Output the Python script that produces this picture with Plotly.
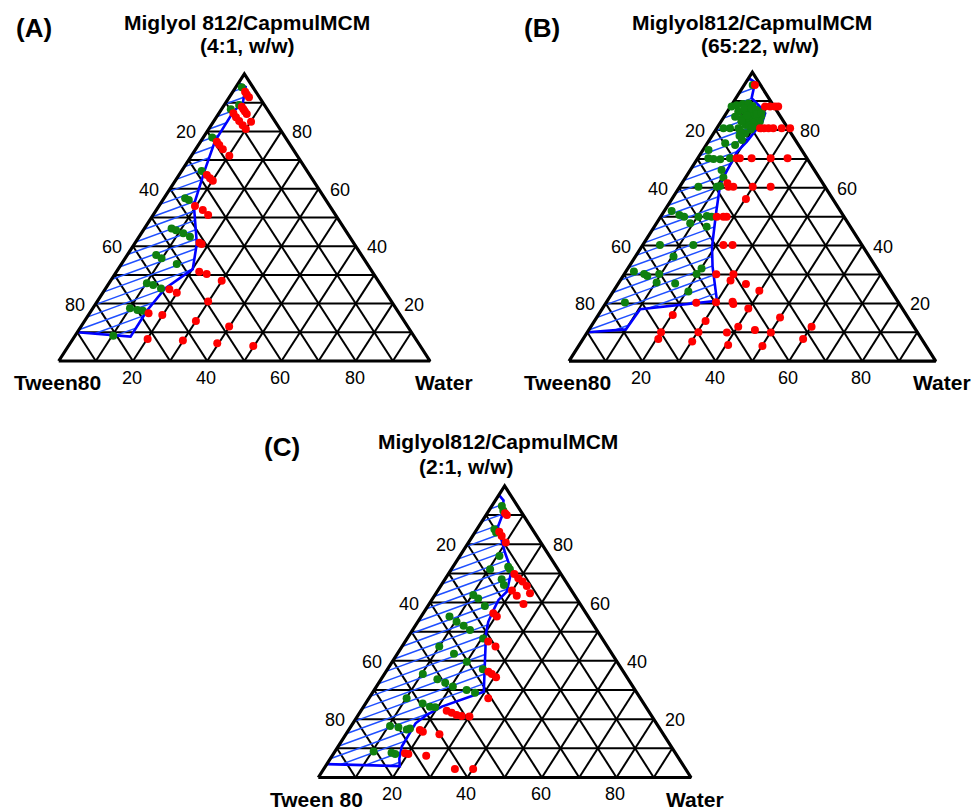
import math
import plotly.graph_objects as go

FIG_W, FIG_H = 974, 811

# Compositions in % (w/w). oil = Miglyol/Capmul phase (apex), water = right corner,
# Tween 80 is the remainder (left corner).

# ---- (A) Miglyol 812 / Capmul MCM 4:1 ----
A_green_oil = [95.4, 89.2, 87.7, 77.9, 66.2, 56.7, 56.1, 46.2, 45.6, 44.5, 43.3, 36.9, 35.8,
               33.8, 27.1, 26.5, 25.3, 18.4, 17.8, 17.5, 8.8]
A_green_water = [1.6, 4.0, 2.5, 2.4, 5.4, 5.7, 7.0, 7.3, 8.8, 11.3, 13.7, 7.8, 9.8,
                 14.9, 10.2, 12.2, 14.9, 10.0, 12.3, 13.9, 10.3]
A_red_oil = [93.8, 92.9, 91.9, 88.6, 87.7, 86.9, 86.1, 86.3, 84.9, 83.6, 82.1, 83.4, 80.8,
             76.4, 75.3, 73.8, 71.5, 64.8, 63.7, 62.8, 54.0, 52.6, 50.9, 41.2, 40.8,
             31.1, 30.3, 28.0, 25.0, 23.8, 20.7, 16.6, 16.0, 13.9, 12.0, 7.7, 7.1, 6.2, 5.2]
A_red_water = [3.3, 4.2, 5.3, 5.0, 5.9, 6.7, 7.6, 3.9, 5.3, 6.8, 8.5, 10.1, 10.0,
               4.4, 5.6, 7.3, 10.2, 7.5, 8.9, 10.1, 9.7, 12.5, 14.8, 17.3, 18.1,
               22.3, 24.7, 29.9, 17.3, 19.9, 29.9, 15.9, 19.9, 30.0, 39.9, 20.1, 29.9, 39.6, 49.8]
A_region_oil = [96.8, 95.5, 90.0, 87.0, 76.6, 66.5, 54.4, 41.0, 32.0, 25.3, 17.5, 8.5, 10.0]
A_region_water = [0.0, 2.6, 4.6, 3.6, 3.8, 6.1, 9.2, 16.7, 20.1, 16.0, 15.0, 15.1, 0.0]

# ---- (B) Miglyol 812 / Capmul MCM 65:22 ----
B_green_oil = [95.6, 88.1, 88.6, 89.0, 89.2, 88.3, 86.7, 84.8, 82.9, 81.4, 80.2, 78.9, 76.5,
               86.3, 86.3, 85.8, 84.0, 83.5, 84.0, 84.6, 81.7, 80.6, 80.6, 80.6,
               87.5, 87.5, 87.0, 85.0, 85.5, 83.0, 82.5, 81.5, 79.5, 78.0, 81.0, 86.0,
               74.8, 75.4, 73.1, 70.2, 70.0, 69.9, 70.2, 66.2, 63.6, 60.4, 60.4, 60.6,
               52.0, 50.6, 50.0, 50.0, 50.2, 50.0, 47.7, 46.5,
               40.2, 40.2, 36.2, 32.1, 30.2, 31.0, 30.2, 29.5, 30.2, 27.2, 26.9, 24.1, 20.3]
B_green_water = [2.3, 0.3, 1.4, 2.9, 4.3, 5.9, 8.0, 10.0, 10.6, 10.3, 9.5, 8.6, 8.9,
                 3.0, 4.9, 6.9, 8.7, 7.2, 5.1, 3.0, 7.2, 5.9, 3.6, 1.8,
                 4.0, 6.0, 7.5, 6.0, 8.5, 5.5, 9.0, 8.5, 7.0, 7.5, 9.5, 9.5,
                 7.9, 4.9, 1.5, 2.9, 4.4, 6.3, 8.8, 8.5, 10.3, 5.1, 10.1, 10.9,
                 2.0, 4.8, 6.4, 10.3, 12.5, 13.9, 9.2, 14.3,
                 4.7, 13.8, 10.4, 20.1, 19.7, 2.2, 5.4, 6.6, 9.5, 10.3, 15.5, 20.5, 5.1]
B_red_oil = [95.6, 88.1, 88.1, 88.1, 88.1, 80.6, 80.6, 80.6, 80.6, 80.6, 80.6,
             70.2, 70.2, 70.2, 70.2, 70.2, 61.6, 60.4, 60.4, 60.4, 60.4, 56.1,
             50.0, 50.0, 50.0, 40.2, 40.2, 30.1, 30.1, 27.9, 26.7, 24.4,
             20.4, 20.6, 19.8, 20.2, 18.2, 16.0, 10.0, 7.7, 13.9, 10.0, 6.8,
             11.9, 9.9, 5.6, 10.8, 15.1, 9.9, 5.3, 11.9, 7.7]
B_red_water = [2.9, 9.4, 10.8, 12.1, 13.0, 11.8, 12.9, 14.1, 15.4, 17.7, 20.0,
               10.6, 11.5, 14.7, 19.9, 24.5, 12.4, 13.3, 14.6, 19.9, 24.8, 20.2,
               15.3, 17.1, 18.0, 22.0, 24.5, 25.1, 29.8, 30.1, 34.9, 39.7,
               29.9, 34.3, 34.9, 24.6, 39.8, 20.3, 20.1, 20.5, 30.3, 30.3, 30.2,
               40.2, 38.1, 40.6, 45.3, 50.0, 50.1, 50.1, 60.2, 60.0]
B_region_oil = [98.0, 96.5, 91.0, 88.5, 85.8, 82.9, 80.0, 76.0, 72.5, 66.7, 62.7, 59.2,
                51.2, 39.6, 32.7, 20.9, 18.0, 11.0, 10.0]
B_region_water = [0.0, 2.5, 4.3, 7.5, 10.6, 11.3, 11.0, 10.5, 9.6, 10.0, 10.4, 11.4,
                  14.5, 19.2, 22.8, 29.9, 10.4, 10.0, 0.0]

# ---- (C) Miglyol 812 / Capmul MCM 2:1 ----
C_green_oil = [93.1, 91.5, 85.1, 84.0, 76.0, 71.4, 72.3, 71.4, 68.0, 66.0, 62.6, 61.4, 58.8,
               55.2, 53.4, 52.0, 50.6, 47.7, 44.9, 42.4, 39.7, 37.1, 35.5, 33.7, 32.5,
               31.2, 30.0, 29.1, 27.2, 25.4, 24.3, 24.1, 17.7, 17.2, 16.5, 16.8, 8.9, 8.5, 8.1]
C_green_water = [2.7, 3.9, 4.7, 5.7, 10.6, 10.4, 14.8, 15.7, 15.2, 16.8, 10.3, 12.2, 15.3,
                 7.6, 10.4, 13.0, 15.4, 20.4, 10.0, 15.2, 20.0, 25.6, 10.3, 15.1, 17.8,
                 20.5, 24.8, 27.5, 10.1, 15.3, 17.8, 19.3, 10.4, 12.9, 15.5, 16.2, 10.4, 15.4, 16.6]
C_red_oil = [90.6, 90.0, 84.3, 82.8, 80.6, 69.8, 68.3, 67.2, 65.7, 63.2, 64.1, 62.3, 59.5,
             56.3, 55.2, 46.6, 44.9, 36.3, 35.5, 34.4, 27.2, 22.9, 22.2, 21.4, 21.1, 20.9,
             16.3, 15.7, 14.8, 8.3, 8.1, 7.5, 2.9, 2.9]
C_red_water = [4.8, 5.6, 6.4, 7.8, 10.0, 17.7, 19.5, 21.2, 23.1, 25.2, 19.9, 22.1, 25.3,
               18.8, 20.3, 22.3, 25.1, 27.5, 28.8, 30.5, 32.0, 23.0, 24.7, 26.4, 27.9, 30.1,
               19.1, 20.2, 25.1, 19.1, 20.1, 25.2, 35.2, 40.1]
C_region_oil = [96.9, 95.0, 89.5, 86.0, 82.6, 76.9, 72.3, 71.2, 63.7, 60.9, 57.4, 53.4, 49.4,
                41.4, 29.4, 24.3, 21.5, 18.6, 10.6, 6.5, 3.9, 4.6]
C_region_water = [0.0, 2.2, 4.5, 5.2, 7.6, 11.7, 15.3, 16.3, 18.7, 17.9, 18.3, 18.9, 20.3,
                  24.0, 29.7, 21.0, 18.4, 16.8, 17.1, 18.5, 19.9, 0.0]

GRID_STEPS = [10, 20, 30, 40, 50, 60, 70, 80, 90]
TICK_LABELS = [20, 40, 60, 80]

GREEN = "#0f800f"
RED = "#ff0000"
BLUE = "#0000ff"
HATCH = "#1f4fff"
FONT = "Arial, Liberation Sans, Helvetica, sans-serif"
MARGIN = 4  # axis padding in composition units

panels = [
    dict(tag="(A)", title="Miglyol 812/CapmulMCM", sub="(4:1, w/w)", left="Tween80",
         X0=58.7, Yb=361.0, W=371.3, H=287.0,
         tag_xy=(34, 28), title_xy=(247, 22), sub_xy=(247, 45),
         left_dx=-1, right_dx=14, corner_dy=-21,
         green=(A_green_oil, A_green_water), red=(A_red_oil, A_red_water),
         region=(A_region_oil, A_region_water)),
    dict(tag="(B)", title="Miglyol812/CapmulMCM", sub="(65:22, w/w)", left="Tween80",
         X0=569.0, Yb=361.2, W=366.7, H=289.0,
         tag_xy=(542, 28), title_xy=(752, 22), sub_xy=(760, 45),
         left_dx=-2, right_dx=6, corner_dy=-21,
         green=(B_green_oil, B_green_water), red=(B_red_oil, B_red_water),
         region=(B_region_oil, B_region_water)),
    dict(tag="(C)", title="Miglyol812/CapmulMCM", sub="(2:1, w/w)", left="Tween 80",
         X0=318.3, Yb=777.5, W=372.7, H=291.6,
         tag_xy=(282, 447), title_xy=(498, 442), sub_xy=(466, 466),
         left_dx=-2, right_dx=4, corner_dy=-22,
         green=(C_green_oil, C_green_water), red=(C_red_oil, C_red_water),
         region=(C_region_oil, C_region_water)),
]


def to_xy(oil, water):
    """Ternary (oil, water) -> planar coordinates with the oil corner on top."""
    return [w + o / 2.0 for o, w in zip(oil, water)], list(oil)


def segments(pairs):
    xs, ys = [], []
    for (o1, w1), (o2, w2) in pairs:
        x, y = to_xy([o1, o2], [w1, w2])
        xs += x + [None]
        ys += y + [None]
    return xs, ys


def grid_pairs():
    pairs = []
    for k in GRID_STEPS:
        pairs.append(((k, 0), (k, 100 - k)))        # constant oil
        pairs.append(((0, k), (100 - k, k)))        # constant water
        pairs.append(((0, 100 - k), (100 - k, 0)))  # constant Tween 80
    return pairs


def hatch(oil, water, W, H, angle=20.0, gap=9.0):
    """Parallel hatch lines clipped to the polygon given by (oil, water)."""
    sx, sy = W / 100.0, H / 100.0
    px, py = to_xy(oil, water)
    pts = [(x * sx, y * sy) for x, y in zip(px, py)]
    th = math.radians(angle)
    ux, uy = math.cos(th), math.sin(th)
    nx, ny = -uy, ux
    proj = [x * nx + y * ny for x, y in pts]
    n = len(pts)
    xs, ys = [], []
    d = math.floor(min(proj) / gap) * gap + gap * 0.5
    while d <= max(proj):
        cuts = []
        for i in range(n):
            (x1, y1), (x2, y2) = pts[i], pts[(i + 1) % n]
            s1, s2 = proj[i] - d, proj[(i + 1) % n] - d
            if (s1 < 0) != (s2 < 0):
                t = s1 / (s1 - s2)
                cx, cy = x1 + t * (x2 - x1), y1 + t * (y2 - y1)
                cuts.append((cx * ux + cy * uy, cx, cy))
        cuts.sort()
        for j in range(0, len(cuts) - 1, 2):
            for _, cx, cy in cuts[j:j + 2]:
                xs.append(cx / sx)
                ys.append(cy / sy)
            xs.append(None)
            ys.append(None)
        d += gap
    return xs, ys


fig = go.Figure()
annotations = []
layout_axes = {}

for i, p in enumerate(panels):
    n = "" if i == 0 else str(i + 1)
    xa, ya = "x" + n, "y" + n
    sx, sy = p["W"] / 100.0, p["H"] / 100.0
    x0 = p["X0"] - MARGIN * sx
    x1 = p["X0"] + (100 + MARGIN) * sx
    ytop = p["Yb"] - (100 + MARGIN) * sy
    ybot = p["Yb"] + MARGIN * sy
    ax_style = dict(visible=False, range=[-MARGIN, 100 + MARGIN], fixedrange=True)
    layout_axes["xaxis" + n] = dict(domain=[x0 / FIG_W, x1 / FIG_W], anchor=ya, **ax_style)
    layout_axes["yaxis" + n] = dict(domain=[1 - ybot / FIG_H, 1 - ytop / FIG_H], anchor=xa,
                                    **ax_style)

    gx, gy = segments(grid_pairs())
    fig.add_trace(go.Scatter(x=gx, y=gy, mode="lines", xaxis=xa, yaxis=ya,
                             line=dict(color="black", width=2), hoverinfo="skip"))

    r_oil, r_water = p["region"]
    hx, hy = hatch(r_oil, r_water, p["W"], p["H"])
    fig.add_trace(go.Scatter(x=hx, y=hy, mode="lines", xaxis=xa, yaxis=ya,
                             line=dict(color=HATCH, width=1.5), hoverinfo="skip"))
    bx, by = to_xy(r_oil, r_water)
    fig.add_trace(go.Scatter(x=bx, y=by, mode="lines", xaxis=xa, yaxis=ya,
                             line=dict(color=BLUE, width=2.6), hoverinfo="skip"))

    ex, ey = to_xy([0, 0, 100, 0], [0, 100, 0, 0])
    fig.add_trace(go.Scatter(x=ex, y=ey, mode="lines", xaxis=xa, yaxis=ya,
                             line=dict(color="black", width=3.2), hoverinfo="skip"))

    for (oil, water), col in ((p["green"], GREEN), (p["red"], RED)):
        mx, my = to_xy(oil, water)
        tw = [round(100 - o - w, 1) for o, w in zip(oil, water)]
        fig.add_trace(go.Scatter(
            x=mx, y=my, mode="markers", xaxis=xa, yaxis=ya,
            marker=dict(color=col, size=8, line=dict(width=0)),
            customdata=list(zip(oil, tw, water)),
            hovertemplate="Oil %{customdata[0]}%<br>Tween 80 %{customdata[1]}%"
                          "<br>Water %{customdata[2]}%<extra></extra>"))

    tick_font = dict(family=FONT, size=18, color="black")
    for t in TICK_LABELS:
        lx, ly = to_xy([100 - t], [0])
        annotations.append(dict(x=lx[0], y=ly[0], xref=xa, yref=ya, text=str(t),
                                showarrow=False, xanchor="right", yanchor="middle",
                                xshift=-9, yshift=-1, font=tick_font))
        rx, ry = to_xy([t], [100 - t])
        annotations.append(dict(x=rx[0], y=ry[0], xref=xa, yref=ya, text=str(t),
                                showarrow=False, xanchor="left", yanchor="middle",
                                xshift=9, yshift=-1, font=tick_font))
        bx_, by_ = to_xy([0], [t])
        annotations.append(dict(x=bx_[0], y=by_[0], xref=xa, yref=ya, text=str(t),
                                showarrow=False, xanchor="center", yanchor="middle",
                                xshift=-1, yshift=-17, font=tick_font))

    corner_font = dict(family=FONT, size=21, color="black")
    cx, cy = to_xy([0, 0], [0, 100])
    annotations.append(dict(x=cx[0], y=cy[0], xref=xa, yref=ya, text="<b>%s</b>" % p["left"],
                            showarrow=False, xanchor="center", yanchor="middle",
                            xshift=p["left_dx"], yshift=p["corner_dy"], font=corner_font))
    annotations.append(dict(x=cx[1], y=cy[1], xref=xa, yref=ya, text="<b>Water</b>",
                            showarrow=False, xanchor="center", yanchor="middle",
                            xshift=p["right_dx"], yshift=p["corner_dy"], font=corner_font))

    for key, txt, size in (("tag_xy", p["tag"], 26), ("title_xy", p["title"], 21),
                           ("sub_xy", p["sub"], 21)):
        tx, ty = p[key]
        annotations.append(dict(x=tx / FIG_W, y=1 - ty / FIG_H, xref="paper", yref="paper",
                                text="<b>%s</b>" % txt, showarrow=False,
                                xanchor="center", yanchor="middle",
                                font=dict(family=FONT, size=size, color="black")))

fig.update_layout(
    width=FIG_W, height=FIG_H,
    margin=dict(l=0, r=0, t=0, b=0),
    paper_bgcolor="white", plot_bgcolor="white",
    showlegend=False,
    annotations=annotations,
    **layout_axes,
)

fig.write_html("out.html")
